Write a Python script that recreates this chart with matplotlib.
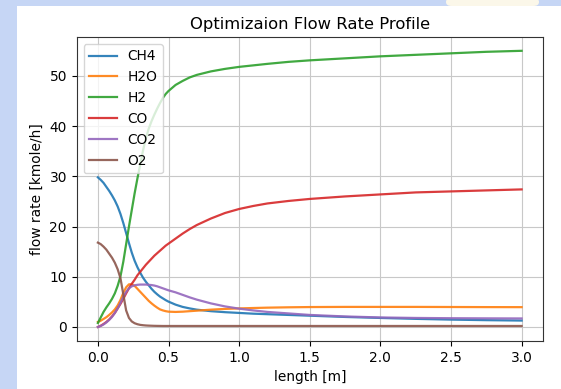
import matplotlib
matplotlib.use("Agg")
import matplotlib.pyplot as plt
from matplotlib.patches import Rectangle, FancyBboxPatch

# reactor length positions [m]
length = [0.0, 0.02, 0.04, 0.06, 0.08, 0.1, 0.12, 0.14, 0.16, 0.18, 0.2,
          0.22, 0.24, 0.26, 0.28, 0.3, 0.32, 0.34, 0.36, 0.38, 0.4,
          0.42, 0.44, 0.46, 0.48, 0.5,
          0.55, 0.6, 0.65, 0.7, 0.8, 0.9, 1.0, 1.1, 1.2, 1.35, 1.5,
          1.75, 2.0, 2.25, 2.5, 2.75, 3.0]

# species flow rates [kmole/h]
ch4 = [29.8, 29.3, 28.7, 27.9, 27.1, 26.2, 25.2, 24.0, 22.5, 20.7, 18.7,
       16.7, 14.8, 13.2, 11.9, 10.8, 9.8, 9.0, 8.3, 7.6, 7.0,
       6.5, 6.05, 5.7, 5.35, 5.05,
       4.45, 4.0, 3.7, 3.45, 3.15, 2.95, 2.8, 2.65, 2.55, 2.4, 2.25,
       2.0, 1.8, 1.62, 1.47, 1.36, 1.28]
h2o = [1.0, 1.25, 1.6, 1.95, 2.4, 2.9, 3.5, 4.3, 5.4, 6.8, 7.9,
       8.5, 8.5, 8.2, 7.6, 7.0, 6.4, 5.8, 5.2, 4.7, 4.25,
       3.85, 3.5, 3.3, 3.15, 3.05,
       3.0, 3.05, 3.15, 3.25, 3.45, 3.6, 3.7, 3.78, 3.85, 3.92, 3.97,
       4.0, 4.0, 4.0, 3.98, 3.96, 3.95]
h2 = [0.8, 1.9, 3.0, 3.9, 4.7, 5.6, 6.7, 8.2, 10.1, 13.0, 16.5,
      20.0, 23.3, 26.6, 29.6, 32.4, 35.2, 37.6, 39.5, 41.0, 42.3,
      43.5, 44.6, 45.6, 46.4, 47.0,
      48.2, 49.0, 49.7, 50.2, 50.9, 51.4, 51.8, 52.1, 52.4, 52.8, 53.1,
      53.5, 53.9, 54.2, 54.5, 54.8, 55.0]
co = [0.0, 0.25, 0.6, 1.0, 1.5, 2.1, 2.8, 3.7, 4.6, 5.6, 6.7,
      7.7, 8.6, 9.4, 10.3, 11.0, 11.7, 12.4, 13.0, 13.6, 14.2,
      14.7, 15.2, 15.7, 16.2, 16.6,
      17.6, 18.6, 19.5, 20.3, 21.6, 22.7, 23.5, 24.1, 24.6, 25.1, 25.5,
      26.0, 26.4, 26.8, 27.0, 27.2, 27.4]
co2 = [0.0, 0.2, 0.5, 0.9, 1.4, 2.0, 2.8, 3.7, 4.8, 6.0, 7.0,
       7.7, 8.1, 8.3, 8.4, 8.45, 8.45, 8.45, 8.4, 8.35, 8.25,
       8.1, 7.9, 7.7, 7.5, 7.3,
       6.9, 6.4, 5.9, 5.45, 4.7, 4.1, 3.65, 3.3, 3.0, 2.7, 2.4,
       2.1, 1.9, 1.8, 1.75, 1.72, 1.7]
o2 = [16.8, 16.5, 16.0, 15.4, 14.6, 13.8, 12.8, 11.5, 9.7, 6.5, 3.3,
      1.8, 1.1, 0.75, 0.55, 0.42, 0.35, 0.3, 0.27, 0.25, 0.23,
      0.22, 0.21, 0.2, 0.2, 0.2,
      0.2, 0.2, 0.2, 0.2, 0.2, 0.2, 0.2, 0.2, 0.2, 0.2, 0.2,
      0.2, 0.2, 0.2, 0.2, 0.2, 0.2]

labels = ["CH4", "H2O", "H2", "CO", "CO2", "O2"]
series = [ch4, h2o, h2, co, co2, o2]

plt.rcParams["font.size"] = 9.9

W, H = 561, 389
fig = plt.figure(figsize=(W / 100, H / 100), dpi=100)
fig.patch.set_facecolor("#c6d6f5")

# white sheet behind the plot
fig.add_artist(Rectangle((17 / W, 0), 1 - 17 / W, (H - 6) / H,
                         transform=fig.transFigure, facecolor="white",
                         edgecolor="none", zorder=-2))
fig.add_artist(FancyBboxPatch((446 / W, (H - 6) / H), 93 / W, 8 / H,
                              boxstyle="round,pad=0,rounding_size=0.01",
                              transform=fig.transFigure, facecolor="#fbf7e9",
                              edgecolor="none", zorder=-1))

ax = fig.add_axes([76.7 / W, 1 - 340.8 / H, (542.8 - 76.7) / W, (340.8 - 37) / H])
for lab, vals in zip(labels, series):
    ax.plot(length, vals, label=lab, linewidth=1.6, alpha=0.9)

ax.set_title("Optimizaion Flow Rate Profile", fontsize=11.8)
ax.set_xlabel("length [m]")
ax.set_ylabel("flow rate [kmole/h]")
ax.grid(True, color="#c8c8c8")
for sp in ax.spines.values():
    sp.set_color("#333333")
ax.legend(loc="upper left")

fig.savefig("out.png", dpi=100, facecolor=fig.get_facecolor())
